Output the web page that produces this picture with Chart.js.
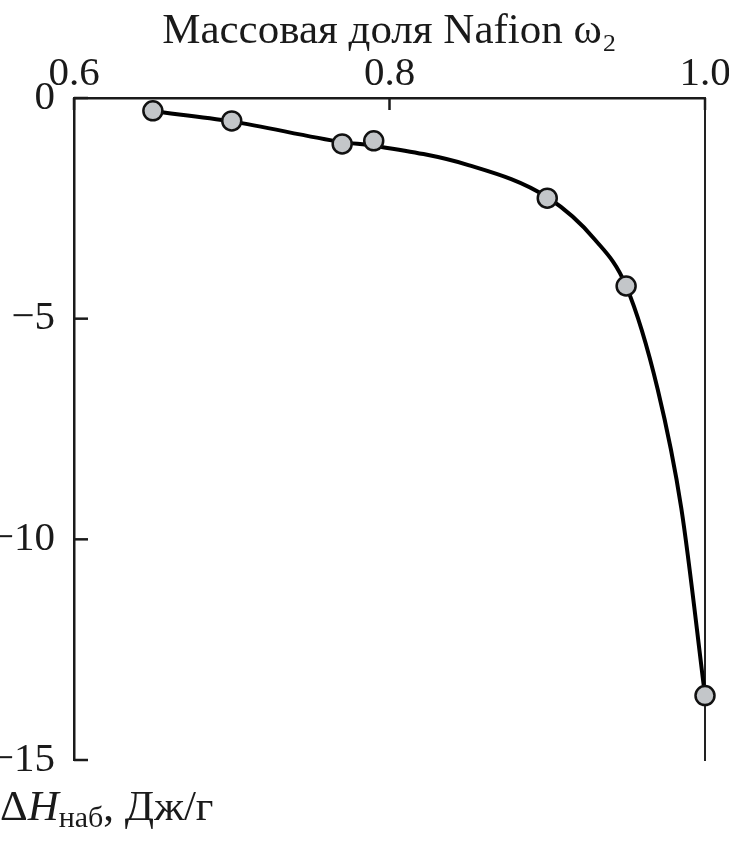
<!DOCTYPE html>
<html>
<head>
<meta charset="utf-8">
<script src="https://cdn.jsdelivr.net/npm/chart.js@4/dist/chart.umd.min.js"></script>
<style>
  html, body { margin: 0; padding: 0; background: #fff; }
  .wrap { position: relative; width: 729px; height: 843px; }
  .ylabel {
    position: absolute; left: 0; top: 781px;
    font-family: "Liberation Serif", serif; font-size: 43px; color: #1a1a1a;
    white-space: nowrap;
  }
  .ylabel sub { font-size: 30px; vertical-align: -7px; }
</style>
</head>
<body>
<div class="wrap">
  <canvas id="myChart" width="729" height="843"></canvas>
  <div class="ylabel">Δ<i>H</i><sub>наб</sub>, Дж/г</div>
</div>
<script>
// measured points
const fraction = [0.65, 0.70, 0.77, 0.79, 0.90, 0.95, 1.00];
const enthalpy = [-0.29, -0.52, -1.04, -0.97, -2.27, -4.26, -13.54];

// smooth curve as traced on the picture
const curveFraction = [0.65, 0.70, 0.77, 0.79, 0.85, 0.90, 0.93, 0.95, 0.97, 0.985, 1.00];
const curveEnthalpy = [-0.30, -0.53, -1.00, -1.08, -1.52, -2.25, -3.20, -4.26, -6.60, -9.30, -13.54];

const xTicks = [0.6, 0.8, 1.0];
const yTicks = [0, -5, -10, -15];

const serif = "'Liberation Serif', 'DejaVu Serif', serif";
const ink = "#1a1a1a";

// ticks drawn inward from the axes
const inwardTicks = {
  id: "inwardTicks",
  afterDraw(chart) {
    const { ctx, chartArea, scales } = chart;
    ctx.save();
    ctx.strokeStyle = ink;
    ctx.lineWidth = 2.5;
    xTicks.forEach(v => {
      const px = scales.x.getPixelForValue(v);
      ctx.beginPath();
      ctx.moveTo(px, chartArea.top);
      ctx.lineTo(px, chartArea.top + 12);
      ctx.stroke();
    });
    yTicks.forEach(v => {
      const py = scales.y.getPixelForValue(v);
      ctx.beginPath();
      ctx.moveTo(chartArea.left, py);
      ctx.lineTo(chartArea.left + 14, py);
      ctx.stroke();
    });
    ctx.restore();
  }
};

const ctx = document.getElementById("myChart");
new Chart(ctx, {
  type: "line",
  data: {
    datasets: [
      {
        label: "points",
        data: fraction.map((x, i) => ({ x: x, y: enthalpy[i] })),
        showLine: false,
        pointRadius: 9.5,
        pointBackgroundColor: "#c3c6c9",
        pointBorderColor: "#111",
        pointBorderWidth: 2.5,
        clip: false,
        order: 0
      },
      {
        label: "curve",
        data: curveFraction.map((x, i) => ({ x: x, y: curveEnthalpy[i] })),
        borderColor: "#000",
        borderWidth: 4,
        pointRadius: 0,
        cubicInterpolationMode: "monotone",
        fill: false,
        clip: false,
        order: 1
      }
    ]
  },
  options: {
    responsive: false,
    animation: false,
    layout: { padding: { left: 0, right: 0, top: 0, bottom: 83 } },
    plugins: { legend: { display: false }, tooltip: { enabled: false } },
    scales: {
      x: {
        type: "linear",
        position: "top",
        min: 0.6,
        max: 1.0,
        afterBuildTicks: s => { s.ticks = xTicks.map(v => ({ value: v })); },
        afterFit: s => { s.height = 98; },
        grid: { display: false },
        border: { display: true, color: ink, width: 2.5 },
        ticks: {
          color: ink,
          padding: -9,
          font: { family: serif, size: 41 },
          callback: v => v.toFixed(1)
        },
        title: {
          display: true,
          text: "Массовая доля Nafion ω₂",
          color: ink,
          font: { family: serif, size: 43 },
          padding: { top: 6, bottom: 0 }
        }
      },
      y: {
        type: "linear",
        position: "left",
        min: -15,
        max: 0,
        afterBuildTicks: s => { s.ticks = yTicks.map(v => ({ value: v })); },
        afterFit: s => { s.width = 74; },
        grid: { display: false },
        border: { display: true, color: ink, width: 2.5 },
        ticks: {
          color: ink,
          padding: 11,
          font: { family: serif, size: 41 },
          callback: v => (v < 0 ? "\u2212" + Math.abs(v) : String(v))
        }
      },
      y2: {
        type: "linear",
        position: "right",
        min: -15,
        max: 0,
        afterFit: s => { s.width = 24; },
        grid: { display: false },
        border: { display: true, color: "#222", width: 2 },
        ticks: { display: false }
      }
    }
  },
  plugins: [inwardTicks]
});
</script>
</body>
</html>
